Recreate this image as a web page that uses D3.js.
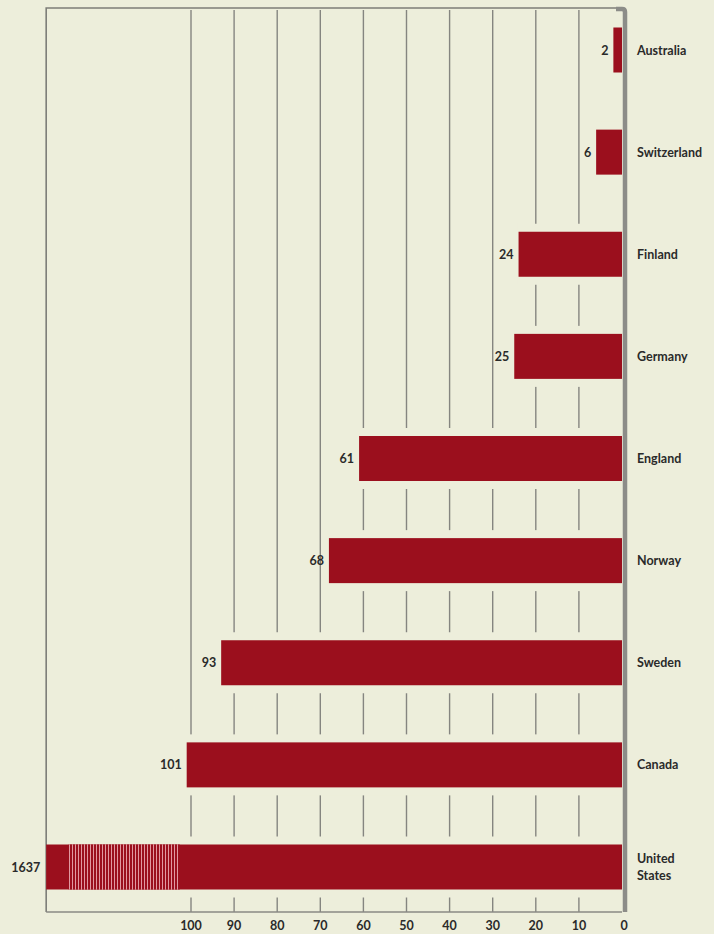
<!DOCTYPE html>
<meta charset="utf-8">
<style>
  body { margin: 0; background: #edeedb; }
  text { font-family: Lato, "Liberation Sans", sans-serif; font-weight: 700; fill: #2a2a2a; }
  .grid { stroke: #858580; stroke-width: 1.4px; }
</style>
<svg width="714" height="934"></svg>
<script src="https://cdn.jsdelivr.net/npm/d3@7"></script>
<script>

  // data
  var countries = ["Australia", "Switzerland", "Finland", "Germany", "England", "Norway", "Sweden", "Canada", "United States"];
  var values = [2, 6, 24, 25, 61, 68, 93, 101, 1637];
  var ticks = [100, 90, 80, 70, 60, 50, 40, 30, 20, 10, 0];

  var svg = d3.select("svg"),
    bg = "#edeedb",
    barColor = "#9b0f1d",
    yTop = 8, yBottom = 912, barH = 45;

  var x = d3.scaleLinear().domain([0, 100]).range([622, 191]);
  var maxShown = 133.6; // frame left edge, in data units
  var y = d3.scalePoint().domain(countries).range([50, 867]);

  var data = countries.map(function (c, i) { return { name: c, v: values[i] }; });

  // hatch pattern for the broken bar
  var defs = svg.append("defs");
  var pat = defs.append("pattern").attr("id", "hatch")
    .attr("patternUnits", "userSpaceOnUse").attr("width", 3).attr("height", 10);
  pat.append("rect").attr("width", 3).attr("height", 10).attr("fill", barColor);
  pat.append("rect").attr("x", 0).attr("width", 0.9).attr("height", 10).attr("fill", "#e9a9b0");

  // gridlines
  svg.append("g").selectAll("line").data(ticks.filter(function (t) { return t > 0; }))
    .enter().append("line").attr("class", "grid")
    .attr("x1", function (d) { return x(d); }).attr("x2", function (d) { return x(d); })
    .attr("y1", yTop + 2).attr("y2", yBottom);

  // gaps around bars
  svg.append("g").selectAll("rect").data(data).enter().append("rect")
    .attr("x", function (d) { return x(Math.min(d.v, maxShown)) - 1; })
    .attr("width", function (d) { return x(0) - x(Math.min(d.v, maxShown)) + 1; })
    .attr("y", function (d) { return y(d.name) - barH / 2 - 8; })
    .attr("height", barH + 16)
    .attr("fill", bg);

  // frame
  svg.append("path")
    .attr("d", "M" + x(maxShown) + "," + yBottom + "V" + yTop + "H" + (x(0) - 2))
    .attr("fill", "none").attr("stroke", "#7d7d78").attr("stroke-width", 1.6);
  svg.append("line")
    .attr("x1", x(maxShown)).attr("x2", x(0)).attr("y1", yBottom).attr("y2", yBottom)
    .attr("stroke", "#8a8a85").attr("stroke-width", 1.4);
  svg.append("path")
    .attr("d", "M" + (x(0) - 6) + "," + (yTop + 1) + "H" + (x(0)) + "Q" + (x(0) + 3) + "," + (yTop + 1) + " " + (x(0) + 3) + "," + (yTop + 4) + "V" + yBottom)
    .attr("fill", "none").attr("stroke", "#8c8c88").attr("stroke-width", 4.5);

  // bars
  svg.append("g").selectAll("rect").data(data).enter().append("rect")
    .attr("x", function (d) { return x(Math.min(d.v, maxShown)); })
    .attr("width", function (d) { return x(0) - x(Math.min(d.v, maxShown)); })
    .attr("y", function (d) { return y(d.name) - barH / 2; })
    .attr("height", barH)
    .attr("fill", barColor);

  // break marking on the out-of-scale bar
  data.filter(function (d) { return d.v > maxShown; }).forEach(function (d) {
    svg.append("rect")
      .attr("x", x(128.4)).attr("width", x(102.6) - x(128.4))
      .attr("y", y(d.name) - barH / 2).attr("height", barH)
      .attr("fill", "url(#hatch)");
  });

  // value labels
  svg.append("g").selectAll("text").data(data).enter().append("text")
    .attr("x", function (d) { return (d.v > maxShown ? x(maxShown) - 6 : x(d.v) - 5); })
    .attr("y", function (d) { return y(d.name); })
    .attr("dy", "0.36em")
    .attr("text-anchor", "end")
    .attr("font-size", 12.5)
    .text(function (d) { return d.v; });

  // country labels
  var names = svg.append("g").selectAll("text").data(data).enter().append("text")
    .attr("x", 637)
    .attr("y", function (d) { return y(d.name); })
    .attr("font-size", 12.5);
  names.each(function (d) {
    var words = d.name === "United States" ? ["United", "States"] : [d.name];
    var t = d3.select(this);
    words.forEach(function (w, i) {
      t.append("tspan").attr("x", 637)
        .attr("dy", words.length === 1 ? "0.36em" : (i === 0 ? "-0.35em" : "1.4em"))
        .text(w);
    });
  });

  // axis tick labels
  svg.append("g").selectAll("text").data(ticks).enter().append("text")
    .attr("x", function (d) { return x(d) + (d === 0 ? 2 : 0); })
    .attr("y", 930)
    .attr("text-anchor", "middle")
    .attr("font-size", 12.5)
    .text(function (d) { return d; });

</script>
